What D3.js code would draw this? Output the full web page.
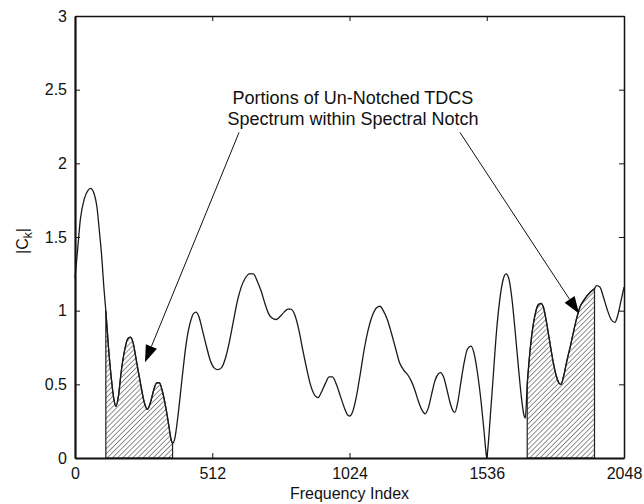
<!DOCTYPE html>
<html>
<head>
<meta charset="utf-8">
<script src="https://cdn.jsdelivr.net/npm/d3@7"></script>
<style>
  body { margin: 0; background: #fff; }
  text { font-family: "Liberation Sans", Arial, sans-serif; fill: #111; }
</style>
</head>
<body>
<div id="chart"></div>
<script>
// frequency index of each sample
const freqIndex = [
  0, 10, 20, 35, 50, 58, 70, 82, 92, 100, 108, 115, 125, 135, 145, 153, 162, 172, 185, 197,
  207, 217, 230, 245, 258, 270, 282, 295, 305, 315, 325, 338, 350, 358, 364, 372, 385, 400, 415, 430,
  442, 451, 462, 475, 490, 505, 520, 532, 545, 560, 575, 590, 605, 620, 635, 650, 665, 680, 695, 710,
  722, 735, 750, 765, 780, 795, 805, 820, 835, 850, 865, 878, 890, 907, 920, 935, 948, 960, 975, 990,
  1005, 1018, 1026, 1035, 1050, 1065, 1080, 1095, 1110, 1125, 1138, 1150, 1165, 1180, 1195, 1210, 1225, 1243, 1255, 1268,
  1280, 1293, 1306, 1318, 1330, 1342, 1355, 1364, 1375, 1388, 1400, 1410, 1417, 1428, 1440, 1452, 1464, 1477, 1490, 1502,
  1515, 1525, 1532, 1536, 1540, 1548, 1560, 1572, 1585, 1597, 1608, 1618, 1630, 1642, 1655, 1666, 1675, 1680, 1687, 1695,
  1703, 1716, 1728, 1738, 1748, 1758, 1770, 1782, 1795, 1805, 1813, 1822, 1835, 1848, 1860, 1873, 1885, 1898, 1910, 1925,
  1938, 1946, 1958, 1970, 1985, 2000, 2014, 2025, 2036, 2048
];

// |C_k| magnitude at each index
const magnitude = [
  1.22, 1.42, 1.62, 1.76, 1.82, 1.83, 1.80, 1.70, 1.52, 1.36, 1.15, 1.00, 0.75, 0.55, 0.40, 0.35, 0.42, 0.58, 0.73, 0.81,
  0.82, 0.78, 0.65, 0.50, 0.38, 0.33, 0.38, 0.47, 0.51, 0.51, 0.46, 0.35, 0.22, 0.13, 0.10, 0.13, 0.30, 0.55, 0.78, 0.92,
  0.98, 0.99, 0.96, 0.87, 0.76, 0.66, 0.61, 0.60, 0.61, 0.67, 0.78, 0.92, 1.06, 1.16, 1.22, 1.25, 1.25, 1.20, 1.13, 1.04,
  0.98, 0.95, 0.94, 0.96, 0.99, 1.01, 1.01, 0.97, 0.87, 0.73, 0.60, 0.50, 0.44, 0.41, 0.45, 0.51, 0.55, 0.55, 0.50, 0.42,
  0.34, 0.29, 0.285, 0.31, 0.42, 0.58, 0.75, 0.88, 0.97, 1.02, 1.03, 1.00, 0.94, 0.85, 0.75, 0.65, 0.60, 0.56, 0.52, 0.46,
  0.39, 0.33, 0.30, 0.34, 0.43, 0.52, 0.57, 0.58, 0.55, 0.46, 0.37, 0.32, 0.31, 0.38, 0.52, 0.65, 0.74, 0.76, 0.70, 0.57,
  0.38, 0.20, 0.06, 0.0, 0.06, 0.25, 0.55, 0.85, 1.08, 1.21, 1.25, 1.22, 1.08, 0.86, 0.60, 0.40, 0.29, 0.27, 0.50, 0.68,
  0.82, 0.97, 1.04, 1.05, 1.02, 0.93, 0.80, 0.67, 0.56, 0.51, 0.50, 0.55, 0.66, 0.76, 0.86, 0.96, 1.03, 1.07, 1.10, 1.13,
  1.15, 1.17, 1.16, 1.10, 1.01, 0.94, 0.92, 0.97, 1.06, 1.16
];

// spectral notch bands that get hatched
const notchBands = [[115, 364], [1687, 1938]];

const xTicks = [0, 512, 1024, 1536, 2048];
const yTicks = [0, 0.5, 1, 1.5, 2, 2.5, 3];

const annotationLines = ["Portions of Un-Notched TDCS", "Spectrum within Spectral Notch"];

function renderSpectrum() {
  const margin = { top: 16, right: 20, bottom: 46, left: 75 },
    width = 644 - margin.left - margin.right,
    height = 504 - margin.top - margin.bottom;

  const svg = d3.select("#chart")
    .append("svg")
    .attr("width", 644)
    .attr("height", 504);

  const g = svg.append("g")
    .attr("transform", `translate(${margin.left}, ${margin.top})`);

  const data = freqIndex.map((k, i) => ({ k, c: magnitude[i] }));

  // Scales
  const x = d3.scaleLinear().domain([0, 2048]).range([0, width]);
  const y = d3.scaleLinear().domain([0, 3]).range([height, 0]);

  // Hatch pattern
  svg.append("defs")
    .append("pattern")
    .attr("id", "hatch")
    .attr("patternUnits", "userSpaceOnUse")
    .attr("width", 3.6)
    .attr("height", 3.6)
    .attr("patternTransform", "rotate(45)")
    .append("line")
    .attr("x1", 0).attr("y1", 0)
    .attr("x2", 0).attr("y2", 3.6)
    .attr("stroke", "#222")
    .attr("stroke-width", 1);

  const curve = d3.curveMonotoneX;

  // Hatched areas
  const area = d3.area()
    .x(d => x(d.k))
    .y0(y(0))
    .y1(d => y(d.c))
    .curve(curve);

  notchBands.forEach(([a, b]) => {
    const band = data.filter(d => d.k >= a && d.k <= b);
    g.append("path")
      .datum(band)
      .attr("d", area)
      .attr("fill", "url(#hatch)")
      .attr("stroke", "#222")
      .attr("stroke-width", 1.2);
  });

  // Spectrum line
  const line = d3.line().x(d => x(d.k)).y(d => y(d.c)).curve(curve);
  g.append("path")
    .datum(data)
    .attr("d", line)
    .attr("fill", "none")
    .attr("stroke", "#1a1a1a")
    .attr("stroke-width", 1.3);

  // Axes (ticks inside, all four sides)
  const tickLen = 5;
  const xAxis = g.append("g")
    .attr("transform", `translate(0, ${height})`)
    .call(d3.axisBottom(x).tickValues(xTicks).tickFormat(d3.format("d")).tickSizeInner(-tickLen).tickSizeOuter(0).tickPadding(10));
  const yAxis = g.append("g")
    .call(d3.axisLeft(y).tickValues(yTicks).tickFormat(d => d).tickSizeInner(-tickLen).tickSizeOuter(0).tickPadding(8));
  g.append("g")
    .call(d3.axisTop(x).tickValues(xTicks).tickFormat("").tickSizeInner(-tickLen).tickSizeOuter(0));
  g.append("g")
    .attr("transform", `translate(${width}, 0)`)
    .call(d3.axisRight(y).tickValues(yTicks).tickFormat("").tickSizeInner(-tickLen).tickSizeOuter(0));

  g.selectAll(".domain").attr("stroke", "#111").attr("stroke-width", 1.5);
  xAxis.select(".domain").attr("stroke-width", 2.2);
  yAxis.select(".domain").attr("stroke-width", 2.2);
  g.selectAll(".tick line").attr("stroke", "#111");
  g.selectAll(".tick text").style("font-size", "16px").style("fill", "#111");

  // Axis labels
  svg.append("text")
    .attr("x", margin.left + width / 2)
    .attr("y", 499)
    .attr("text-anchor", "middle")
    .style("font-size", "16px")
    .text("Frequency Index");

  const yl = svg.append("text")
    .attr("transform", `translate(28, ${margin.top + height / 2 + 4}) rotate(-90)`)
    .attr("text-anchor", "middle")
    .style("font-size", "16px");
  yl.append("tspan").text("|C");
  yl.append("tspan").attr("dy", 4).style("font-size", "12px").text("k");
  yl.append("tspan").attr("dy", -4).text("|");

  // Annotation
  const note = g.append("text")
    .attr("text-anchor", "middle")
    .style("font-size", "18px");
  annotationLines.forEach((t, i) => {
    note.append("tspan")
      .attr("x", x(1037))
      .attr("y", y(2.4) + i * 21)
      .text(t);
  });

  const arrows = [
    { from: [612, 2.21], to: [261, 0.65] },
    { from: [1436, 2.21], to: [1880, 0.98] }
  ];
  arrows.forEach(a => {
    const x0 = x(a.from[0]), y0 = y(a.from[1]);
    const x1 = x(a.to[0]), y1 = y(a.to[1]);
    const ang = Math.atan2(y1 - y0, x1 - x0);
    const len = 17, half = 6;
    const bx = x1 - len * Math.cos(ang), by = y1 - len * Math.sin(ang);
    g.append("line")
      .attr("x1", x0).attr("y1", y0)
      .attr("x2", bx).attr("y2", by)
      .attr("stroke", "#111")
      .attr("stroke-width", 1);
    g.append("path")
      .attr("d", d3.line()([
        [x1, y1],
        [bx + half * Math.sin(ang), by - half * Math.cos(ang)],
        [bx - half * Math.sin(ang), by + half * Math.cos(ang)]
      ]) + "Z")
      .attr("fill", "#000");
  });
}

renderSpectrum();
</script>
</body>
</html>
